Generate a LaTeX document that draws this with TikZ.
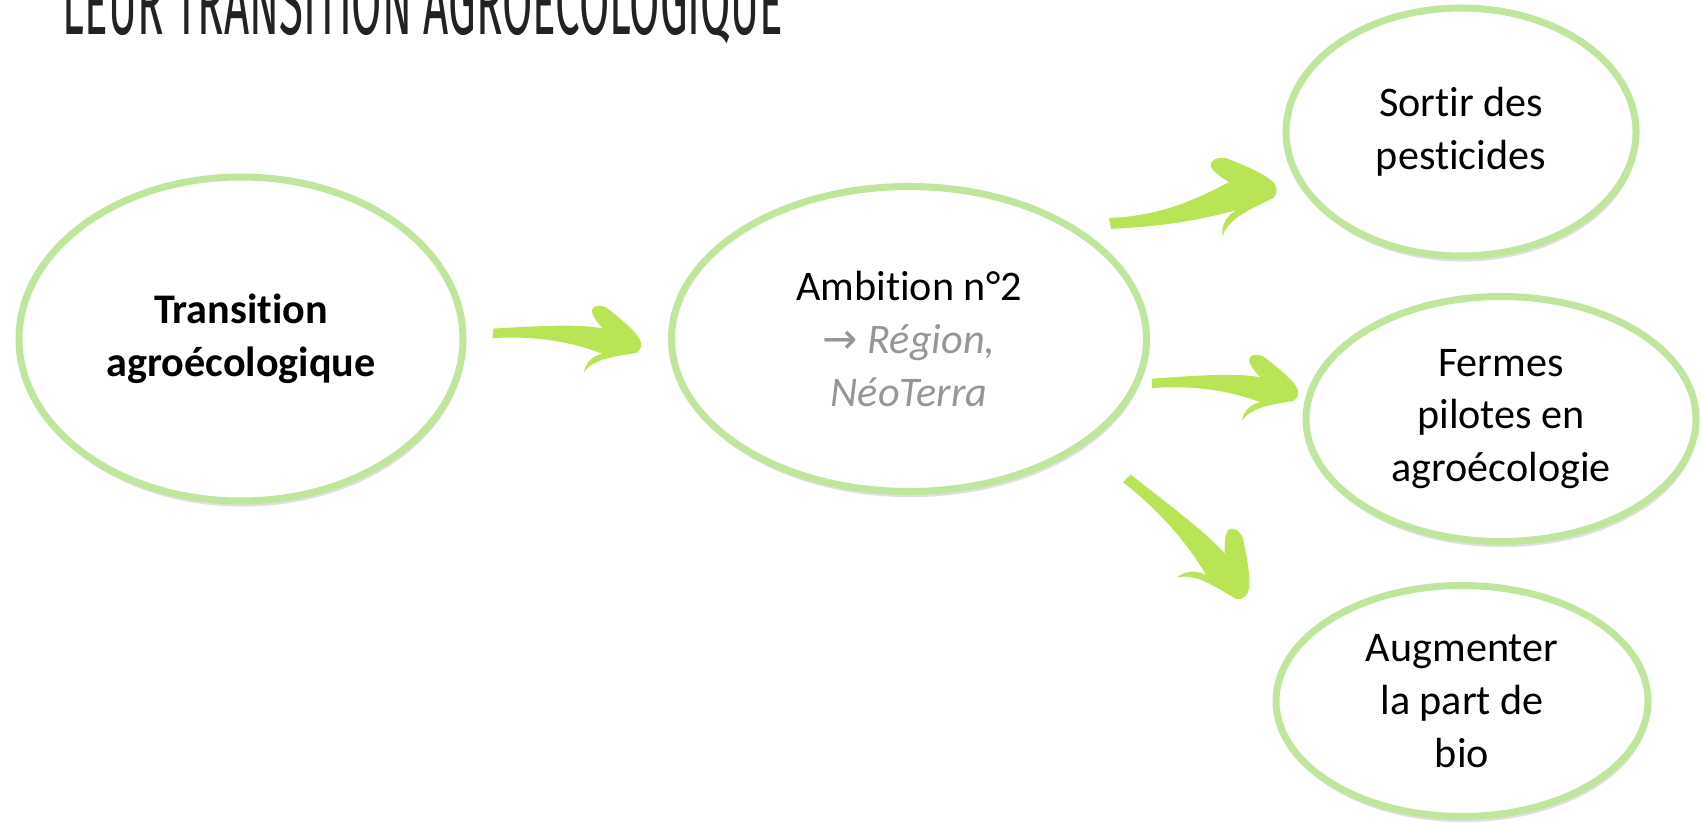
\documentclass[tikz,border=0pt]{standalone}
\usepackage{fontspec}
\setmainfont[Ligatures = NoCommon]{Carlito}
\newfontfamily\titlefont{Fira Sans}
\newfontfamily\symbfont{DejaVu Sans}
\usetikzlibrary{shapes.geometric}
\usetikzlibrary{shadows}
\definecolor{ringgreen}{RGB}{192,230,158}
\definecolor{arrowgreen}{RGB}{184,228,86}
\definecolor{softgray}{RGB}{150,150,150}
\definecolor{ink}{RGB}{34,34,34}
\tikzset{bubble/.style = {ellipse, draw = ringgreen, line width = 2pt, fill = white,
    align = center, inner sep = 0, font = \fontsize{12}{15}\selectfont,
    drop shadow = {shadow xshift = 0.4pt, shadow yshift = -1.6pt, fill = black, opacity = 0.12}}}
\def\brusharrow(#1)(#2)[#3]{%
    \pgfmathanglebetweenpoints{\pgfpointanchor{#1}{center}}{\pgfpointanchor{#2}{center}}%
    \let\brushangle\pgfmathresult
    \pgfpointdiff{\pgfpointanchor{#1}{center}}{\pgfpointanchor{#2}{center}}%
    \pgfgetlastxy\brushdx\brushdy
    \pgfmathsetmacro\brushlen{veclen(\brushdx,\brushdy)}%
    \begin{scope}[shift = {(#1)}, rotate = \brushangle, x = \brushlen pt, y = \brushlen pt]
        \fill [arrowgreen] (0, 0.03)
            .. controls (0.35, {0.03+(#3)}) and (0.6, {0.085+0.5*(#3)}) .. (0.74, 0.09)
            .. controls (0.7, 0.13) and (0.66, 0.17) .. (0.655, 0.205)
            .. controls (0.655, 0.245) and (0.71, 0.25) .. (0.75, 0.235)
            .. controls (0.85, 0.17) and (0.95, 0.1) .. (0.99, 0.045)
            .. controls (1.015, 0.02) and (1.015, -0.035) .. (0.98, -0.055)
            .. controls (0.85, -0.09) and (0.7, -0.11) .. (0.635, -0.215)
            .. controls (0.645, -0.14) and (0.69, -0.1) .. (0.75, -0.08)
            .. controls (0.6, {-0.06+0.5*(#3)}) and (0.35, {-0.035+(#3)}) .. (0, -0.035)
            -- cycle;
    \end{scope}%
}

\begin{document}
\begin{tikzpicture}
    \useasboundingbox (0, 0) rectangle (17.01, 8.22);
    \clip (0, 0) rectangle (17.01, 8.22);

    \node [anchor = base west, text = ink, inner sep = 0] (title) at (0.62, 7.87)
        {\scalebox{0.48}[1]{\titlefont\fontsize{26}{26}\selectfont LEUR TRANSITION AGROÉCOLOGIQUE}};

    \node [bubble, minimum width = 4.44cm, minimum height = 3.24cm] (trans) at (2.41, 4.83)
        {\bfseries Transition\\\bfseries agroécologique};
    \node [bubble, minimum width = 4.75cm, minimum height = 3.05cm] (amb) at (9.09, 4.83)
        {Ambition n°2\\{\color{softgray}{\symbfont →} \itshape Région,}\\{\color{softgray}\itshape NéoTerra}};
    \node [bubble, minimum width = 3.50cm, minimum height = 2.48cm] (sortir) at (14.61, 6.90)
        {Sortir des\\pesticides};
    \node [bubble, minimum width = 3.90cm, minimum height = 2.45cm] (fermes) at (15.01, 4.03)
        {Fermes\\pilotes en\\agroécologie};
    \node [bubble, minimum width = 3.72cm, minimum height = 2.31cm] (bio) at (14.62, 1.21)
        {Augmenter\\la part de\\bio};

    % arrow ends
    \coordinate (t1) at (4.93, 4.89);
    \coordinate (h1) at (6.40, 4.77);
    \coordinate (t2) at (11.10, 5.99);
    \coordinate (h2) at (12.75, 6.34);
    \coordinate (t3) at (11.52, 4.39);
    \coordinate (h3) at (12.97, 4.29);
    \coordinate (t4) at (11.27, 3.44);
    \coordinate (h4) at (12.45, 2.27);

    \brusharrow(t1)(h1)[0.05]
    \brusharrow(t2)(h2)[-0.06]
    \brusharrow(t3)(h3)[0.05]
    \brusharrow(t4)(h4)[0.04]
\end{tikzpicture}
\end{document}
